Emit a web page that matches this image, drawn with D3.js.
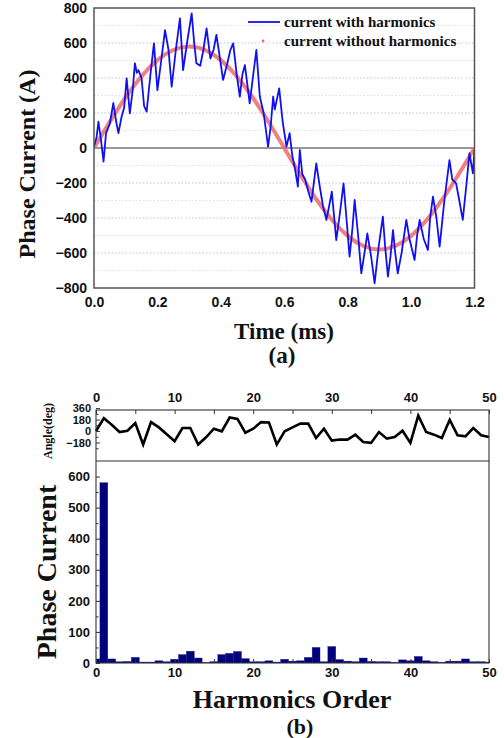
<!DOCTYPE html>
<html>
<head>
<meta charset="utf-8">
<script src="https://cdn.jsdelivr.net/npm/d3@7"></script>
<style>
  body { margin: 0; background: #fff; }
  .tick text { font-family: "Liberation Sans", Arial, sans-serif; font-weight: bold; fill: #111; }
  .ttl { font-family: "Liberation Serif", "Times New Roman", serif; font-weight: bold; fill: #111; }
</style>
</head>
<body>
<div id="chart"></div>
<script>
/*
 * Data
 *****************************/
// (a) phase current with harmonics
const timeBlue = [0.000,0.008,0.014,0.022,0.030,0.038,0.050,0.061,0.070,0.077,0.087,0.095,0.103,0.113,0.122,0.129,0.135,0.140,0.150,0.158,
  0.166,0.178,0.189,0.200,0.212,0.224,0.235,0.245,0.258,0.271,0.281,0.295,0.308,0.316,0.323,0.335,0.345,0.355,0.367,0.377,
  0.386,0.395,0.407,0.420,0.430,0.439,0.450,0.460,0.468,0.476,0.491,0.503,0.512,0.523,0.535,0.549,0.557,0.565,0.570,0.584,
  0.595,0.607,0.617,0.625,0.634,0.643,0.649,0.657,0.666,0.676,0.686,0.701,0.712,0.722,0.733,0.745,0.750,0.764,0.775,0.787,
  0.797,0.806,0.815,0.822,0.833,0.843,0.853,0.862,0.874,0.885,0.898,0.911,0.918,0.927,0.935,0.943,0.950,0.958,0.970,0.985,
  0.995,1.011,1.019,1.027,1.040,1.053,1.060,1.069,1.080,1.090,1.105,1.121,1.130,1.142,1.150,1.163,1.175,1.184,1.195,1.200];
const currentBlue = [8,60,150,46,-78,85,140,257,150,85,179,230,398,198,330,484,430,445,400,240,
  208,420,598,331,500,674,560,350,560,741,445,620,769,600,484,470,560,684,512,560,
  646,540,389,480,560,598,420,293,420,474,255,430,560,293,200,8,120,293,220,341,
  150,8,85,-40,-120,-221,-11,-150,-180,-250,-307,-88,-220,-330,-411,-300,-250,-526,-380,-202,
  -420,-621,-460,-297,-500,-716,-600,-488,-620,-773,-560,-392,-560,-735,-620,-469,-600,-716,-600,-411,
  -520,-640,-500,-411,-520,-583,-400,-278,-400,-564,-300,-69,-180,-202,-280,-411,-200,-30,-145,-11];

// (a) phase current without harmonics
const timeRed = [0,0.05,0.1,0.15,0.2,0.25,0.3,0.35,0.4,0.45,0.5,0.55,0.6,0.65,0.7,0.75,0.8,0.85,0.9,0.95,1.0,1.05,1.1,1.15,1.2];
const currentRed = [0,150,290,410,502,560,580,560,502,410,290,150,0,-150,-290,-410,-502,-560,-580,-560,-502,-410,-290,-150,0];

// (b) harmonic spectrum
const harmonicOrder = d3.range(0, 51);
const harmonicAmp = [13,580,13,4,5,18,3,3,7,4,12,27,38,16,1,4,27,31,37,14,
  4,4,7,3,12,6,7,18,50,4,53,11,6,4,16,5,4,4,2,10,
  7,21,7,4,2,6,6,13,4,4,3];
const harmonicAngle = [0,200,98,-16,5,124,-212,140,57,-50,-160,47,47,-212,-98,36,-5,212,191,-26,
  36,140,135,-212,-5,57,116,116,-109,36,-150,-134,-134,-57,-171,-186,-16,-119,-93,5,
  -186,243,-16,-57,-109,176,-67,-83,47,-67,-93];

// tick labels
const timeTicks = [0, 0.2, 0.4, 0.6, 0.8, 1.0, 1.2];
const currentTicks = [-800, -600, -400, -200, 0, 200, 400, 600, 800];
const orderTicks = [0, 10, 20, 30, 40, 50];
const angleTicks = [-180, 0, 180, 360];
const ampTicks = [0, 100, 200, 300, 400, 500, 600];

/*
 * Layout
 *****************************/
const W = 504, H = 738;
const svg = d3.select("#chart").append("svg").attr("width", W).attr("height", H);

// ---------- (a) time domain ----------
const xT = d3.scaleLinear().domain([0, 1.2]).range([94, 474.5]);
const yC = d3.scaleLinear().domain([-800, 800]).range([288, 8]);

// dotted grid every 100 A
const gridG = svg.append("g");
gridG.selectAll("line")
  .data(d3.range(-700, 800, 100).filter(v => v !== 0))
  .enter().append("line")
  .attr("x1", xT(0)).attr("x2", xT(1.2))
  .attr("y1", d => yC(d)).attr("y2", d => yC(d))
  .attr("stroke", d => d % 200 === 0 ? "#b9b9e6" : "#dcdcdc")
  .attr("stroke-width", 0.9)
  .attr("stroke-dasharray", "1.5,2");

// zero line
svg.append("line")
  .attr("x1", xT(0)).attr("x2", xT(1.2))
  .attr("y1", yC(0)).attr("y2", yC(0))
  .attr("stroke", "#333").attr("stroke-width", 1.2);

svg.append("defs").append("clipPath").attr("id", "clipA")
  .append("rect").attr("x", xT(0)).attr("y", yC(800))
  .attr("width", xT(1.2) - xT(0)).attr("height", yC(-800) - yC(800));

// red sine (drawn first, blue on top)
const redLine = d3.line().x((d, i) => xT(timeRed[i])).y(d => yC(d)).curve(d3.curveNatural);
svg.append("path")
  .datum(currentRed)
  .attr("clip-path", "url(#clipA)")
  .attr("d", redLine)
  .attr("fill", "none")
  .attr("stroke", "#ef6a6a")
  .attr("stroke-opacity", 0.85)
  .attr("stroke-width", 4);

const blueLine = d3.line().x((d, i) => xT(timeBlue[i])).y(d => yC(d));
svg.append("path")
  .datum(currentBlue)
  .attr("clip-path", "url(#clipA)")
  .attr("d", blueLine)
  .attr("fill", "none")
  .attr("stroke", "#1010f0")
  .attr("stroke-width", 1.8)
  .attr("stroke-linejoin", "round");

// frame
svg.append("rect")
  .attr("x", xT(0)).attr("y", yC(800))
  .attr("width", xT(1.2) - xT(0)).attr("height", yC(-800) - yC(800))
  .attr("fill", "none").attr("stroke", "#555").attr("stroke-width", 1.5);

// axes
const axA_x = svg.append("g").attr("transform", `translate(0,${yC(-800)})`)
  .call(d3.axisBottom(xT).tickValues(timeTicks).tickSize(0).tickPadding(9).tickFormat(d3.format(".1f")));
const axA_y = svg.append("g").attr("transform", `translate(${xT(0)},0)`)
  .call(d3.axisLeft(yC).tickValues(currentTicks).tickSize(0).tickPadding(7));
[axA_x, axA_y].forEach(a => {
  a.select(".domain").remove();
  a.selectAll("text").style("font-size", "14px");
});

// legend
svg.append("line").attr("x1", 248).attr("x2", 280).attr("y1", 22).attr("y2", 22)
  .attr("stroke", "#1010f0").attr("stroke-width", 1.8);
svg.append("circle").attr("cx", 263).attr("cy", 41).attr("r", 1.4).attr("fill", "#ef6a6a");
svg.append("text").attr("class", "ttl").attr("x", 284).attr("y", 27)
  .style("font-size", "15px").text("current with harmonics");
svg.append("text").attr("class", "ttl").attr("x", 284).attr("y", 46)
  .style("font-size", "15px").text("current without harmonics");

// titles
svg.append("text").attr("class", "ttl")
  .attr("transform", "translate(35,164) rotate(-90)")
  .attr("text-anchor", "middle").style("font-size", "24px").text("Phase Current (A)");
svg.append("text").attr("class", "ttl").attr("x", 284).attr("y", 339)
  .attr("text-anchor", "middle").style("font-size", "23px").text("Time (ms)");
svg.append("text").attr("class", "ttl").attr("x", 282).attr("y", 363)
  .attr("text-anchor", "middle").style("font-size", "23px").text("(a)");

// ---------- (b) spectrum ----------
const xH = d3.scaleLinear().domain([0, 50]).range([96, 489]);
const yAng = d3.scaleLinear().domain([-470, 330]).range([461, 410]);
const yAmp = d3.scaleLinear().domain([0, 650]).range([663, 461]);

svg.select("defs").append("clipPath").attr("id", "clipB")
  .append("rect").attr("x", xH(0)).attr("y", yAmp(650))
  .attr("width", xH(50) - xH(0)).attr("height", yAmp(0) - yAmp(650));

// bars, one harmonic wide
svg.append("g").attr("clip-path", "url(#clipB)")
  .selectAll("rect")
  .data(harmonicAmp)
  .enter().append("rect")
  .attr("x", (d, i) => xH(harmonicOrder[i] - 0.5))
  .attr("width", xH(1) - xH(0))
  .attr("y", d => yAmp(d))
  .attr("height", d => yAmp(0) - yAmp(d))
  .attr("fill", "#00007c")
  .attr("stroke", "#1a1a90")
  .attr("stroke-width", 0.4);

// angle line
const angLine = d3.line().x((d, i) => xH(harmonicOrder[i])).y(d => yAng(d));
svg.append("path")
  .datum(harmonicAngle)
  .attr("d", angLine)
  .attr("fill", "none")
  .attr("stroke", "#000")
  .attr("stroke-width", 2.6)
  .attr("stroke-linejoin", "miter");

// frames
svg.append("rect")
  .attr("x", xH(0)).attr("y", yAng.range()[1])
  .attr("width", xH(50) - xH(0)).attr("height", yAmp(0) - yAng.range()[1])
  .attr("fill", "none").attr("stroke", "#333").attr("stroke-width", 1.1);
svg.append("line")
  .attr("x1", xH(0)).attr("x2", xH(50)).attr("y1", 461).attr("y2", 461)
  .attr("stroke", "#333").attr("stroke-width", 1.1);

// axes
const axTop = svg.append("g").attr("transform", `translate(0,410)`)
  .call(d3.axisTop(xH).tickValues(d3.range(0, 51, 5)).tickSize(-4).tickPadding(8)
    .tickFormat(d => orderTicks.includes(d) ? d : ""));
const axBot = svg.append("g").attr("transform", `translate(0,663)`)
  .call(d3.axisBottom(xH).tickValues(d3.range(0, 51, 5)).tickSize(-4).tickPadding(5)
    .tickFormat(d => orderTicks.includes(d) ? d : ""));
const axAng = svg.append("g").attr("transform", `translate(${xH(0)},0)`)
  .call(d3.axisLeft(yAng).tickValues(angleTicks).tickSize(-4).tickPadding(5));
const axAngMinor = svg.append("g").attr("transform", `translate(${xH(0)},0)`)
  .call(d3.axisLeft(yAng).tickValues([-270, -90, 90, 270]).tickSize(-2.5).tickFormat(""));
const axAmp = svg.append("g").attr("transform", `translate(${xH(0)},0)`)
  .call(d3.axisLeft(yAmp).tickValues(ampTicks).tickSize(-4).tickPadding(6));
const axAmpMinor = svg.append("g").attr("transform", `translate(${xH(0)},0)`)
  .call(d3.axisLeft(yAmp).tickValues([50, 150, 250, 350, 450, 550]).tickSize(-2.5).tickFormat(""));
[axTop, axBot, axAng, axAngMinor, axAmp, axAmpMinor].forEach(a => {
  a.select(".domain").remove();
  a.selectAll("line").attr("stroke", "#333");
  a.selectAll("text").style("font-size", "13px");
});
// angle labels sit tight, so a bit smaller
axAng.selectAll("text").style("font-size", "11px");

// titles
svg.append("text").attr("class", "ttl")
  .attr("transform", "translate(52,431) rotate(-90)")
  .attr("text-anchor", "middle").style("font-size", "12px").text("Angle(deg)");
svg.append("text").attr("class", "ttl")
  .attr("transform", "translate(56,572) rotate(-90)")
  .attr("text-anchor", "middle").style("font-size", "28px").text("Phase Current");
svg.append("text").attr("class", "ttl").attr("x", 292).attr("y", 708)
  .attr("text-anchor", "middle").style("font-size", "26px").text("Harmonics Order");
svg.append("text").attr("class", "ttl").attr("x", 300).attr("y", 734)
  .attr("text-anchor", "middle").style("font-size", "22px").text("(b)");
</script>
</body>
</html>
